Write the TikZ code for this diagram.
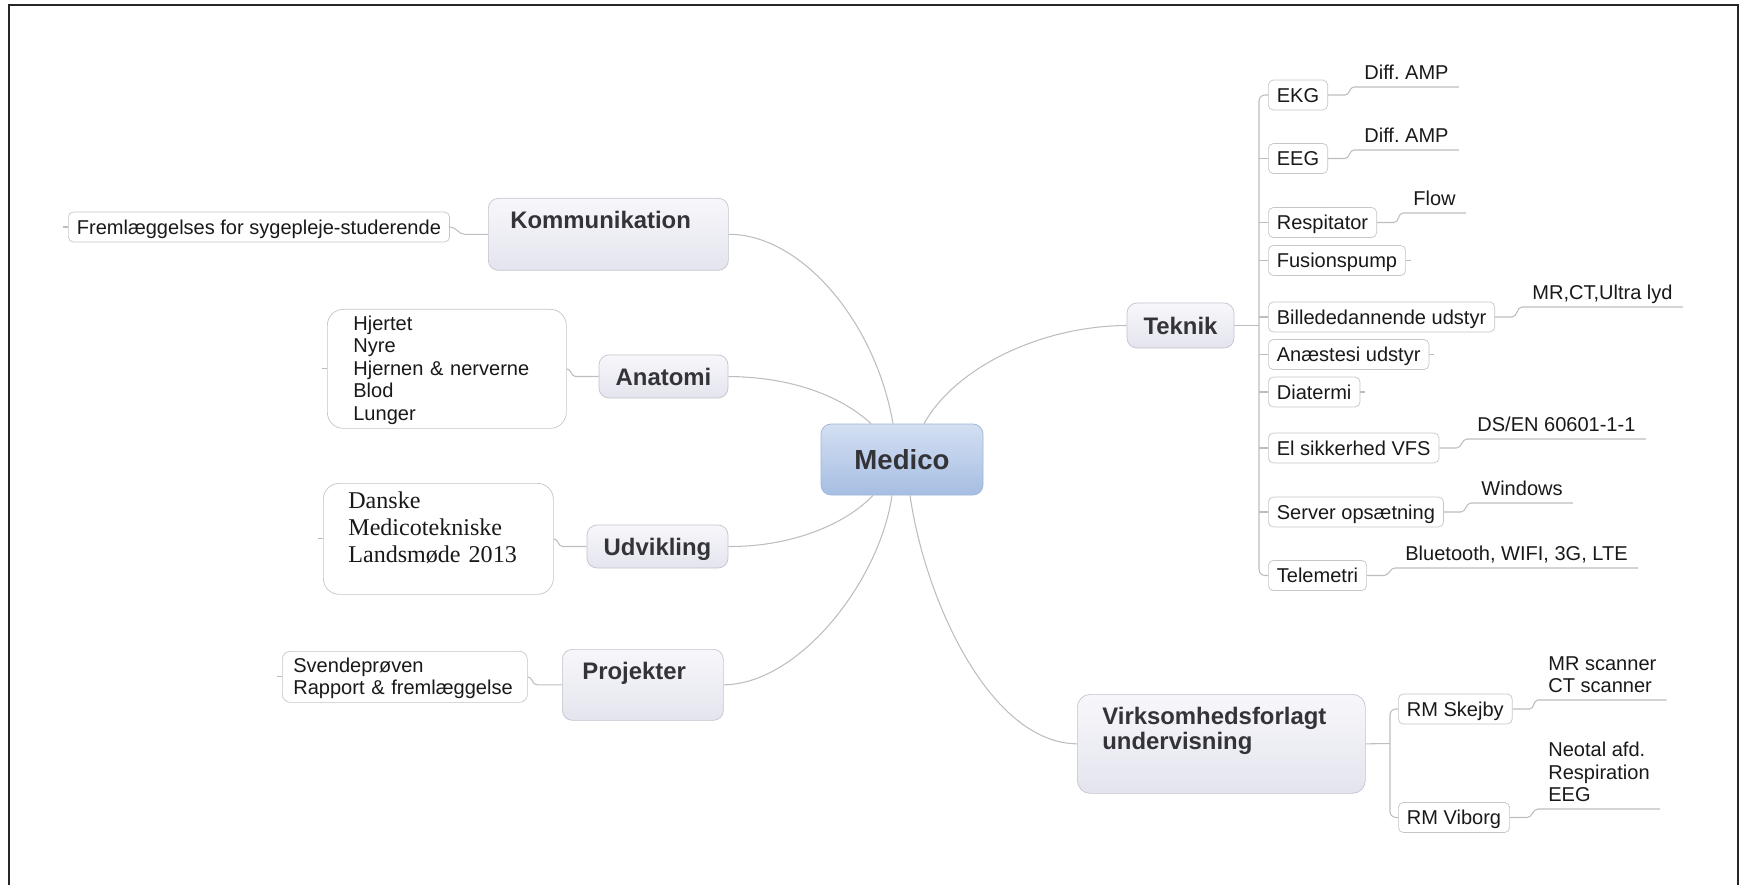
\documentclass[tikz,border=0pt]{standalone}
\usepackage{fontspec}
\setmainfont{Liberation Sans}
\newfontfamily\seriffont{Liberation Serif}

\definecolor{branchgray}{HTML}{BDBDBD}
\definecolor{boxline}{HTML}{C6C6C6}
\definecolor{topicline}{HTML}{C4C4CE}
\definecolor{topictop}{HTML}{F7F7FB}
\definecolor{topicbot}{HTML}{E4E4EE}
\definecolor{centertop}{HTML}{D3DFF2}
\definecolor{centerbot}{HTML}{A6BEE3}
\definecolor{centerline}{HTML}{A0B4D8}
\definecolor{darktext}{HTML}{333338}

\newcommand{\subfont}{\fontsize{11.4}{12.8}\selectfont}
\newcommand{\serifsub}{\seriffont\fontsize{13.7}{15.4}\selectfont}
\newcommand{\topicfont}{\fontsize{13.6}{14.4}\selectfont\bfseries}

\begin{document}
\frenchspacing
\begin{tikzpicture}[
  branch/.style={draw=branchgray, line width=0.6pt},
  centre/.style={draw=centerline, rounded corners=0.2cm, top color=centertop, bottom color=centerbot, text=darktext, font=\fontsize{15.7}{18}\selectfont\bfseries, text height=11.2pt, text depth=0pt, minimum width=3.24cm, minimum height=1.42cm},
  topic/.style={draw=topicline, rounded corners=0.2cm, top color=topictop, bottom color=topicbot, text=darktext, font=\topicfont, text height=9.7pt, text depth=0pt},
  topleft/.style={topic, anchor=north west, align=left, inner ysep=0pt, text height=0.6cm},
  subbox/.style={draw=boxline, fill=white, font=\subfont, text=black!90, align=left, anchor=north west, inner ysep=0pt},
  childbox/.style={draw=boxline, fill=white, rounded corners=0.1cm, font=\subfont, text=black!90, inner xsep=0.17cm, inner ysep=0pt, text height=8.2pt, text depth=0pt, minimum height=0.6cm, anchor=west},
  leaf/.style={font=\subfont, text=black!90, align=left, anchor=south west, inner xsep=0.2cm, inner ysep=0.14cm, text depth=0pt},
]
\useasboundingbox (0,0) rectangle (34.86,-17.70);
\draw[black!85, line width=1.1pt] (0.18,-17.9) -- (0.18,-0.10) -- (34.76,-0.10) -- (34.76,-17.9);

% centre and main topics
\node[centre] (med) at (18.04,-9.19) {Medico};
\node[topleft, inner xsep=0.44cm, text width=3.92cm, text depth=0.84cm] (kom) at (9.76,-3.96) {Kommunikation};
\node[topic, minimum width=2.58cm, minimum height=0.86cm] (ana) at (13.27,-7.53) {Anatomi};
\node[topic, minimum width=2.82cm, minimum height=0.86cm] (udv) at (13.15,-10.93) {Udvikling};
\node[topleft, inner xsep=0.4cm, text width=2.42cm, text depth=0.82cm] (pro) at (11.24,-12.98) {Projekter};
\node[topic, minimum width=2.14cm, minimum height=0.9cm] (tek) at (23.61,-6.51) {Teknik};
\node[topleft, rounded corners=0.26cm, inner xsep=0.5cm, text width=4.76cm, text depth=1.38cm] (vir) at (21.54,-13.88) {Virksomhedsforlagt\\undervisning};

% left side
\node[childbox] (fre) at (1.36,-4.54) {Fremlæggelses for sygepleje-studerende};
\node[subbox, rounded corners=0.32cm, inner xsep=0.52cm, text width=3.74cm, text height=0.42cm, text depth=1.96cm] (hje) at (6.54,-6.18) {Hjertet\\Nyre\\Hjernen \& nerverne\\Blod\\Lunger};
\node[subbox, rounded corners=0.32cm, inner xsep=0.5cm, text width=3.6cm, text height=0.5cm, text depth=1.72cm, font=\serifsub] (dan) at (6.46,-9.66) {Danske\\Medicotekniske\\Landsmøde 2013};
\node[subbox, rounded corners=0.16cm, inner xsep=0.22cm, text width=4.46cm, text height=0.42cm, text depth=0.6cm] (sve) at (5.64,-13.02) {Svendeprøven\\Rapport \& fremlæggelse};

% teknik
\node[childbox] (ekg) at (25.36,-1.90) {EKG};
\node[childbox] (eeg) at (25.36,-3.17) {EEG};
\node[childbox] (res) at (25.36,-4.45) {Respitator};
\node[childbox] (fus) at (25.36,-5.21) {Fusionspump};
\node[childbox] (bil) at (25.36,-6.34) {Billededannende udstyr};
\node[childbox] (anae) at (25.36,-7.09) {Anæstesi udstyr};
\node[childbox] (dia) at (25.36,-7.84) {Diatermi};
\node[childbox] (els) at (25.36,-8.96) {El sikkerhed VFS};
\node[childbox] (ser) at (25.36,-10.24) {Server opsætning};
\node[childbox] (tel) at (25.36,-11.51) {Telemetri};

\node[leaf] (ekgl) at (27.08,-1.74) {Diff. AMP};
\node[leaf] (eegl) at (27.08,-3.00) {Diff. AMP};
\node[leaf] (resl) at (28.06,-4.26) {Flow};
\node[leaf] (bill) at (30.44,-6.14) {MR,CT,Ultra lyd};
\node[leaf] (elsl) at (29.34,-8.78) {DS/EN 60601-1-1};
\node[leaf] (serl) at (29.42,-10.06) {Windows};
\node[leaf] (tell) at (27.90,-11.36) {Bluetooth, WIFI, 3G, LTE};

% virksomhedsforlagt
\node[childbox] (skj) at (27.96,-14.18) {RM Skejby};
\node[childbox] (vib) at (27.96,-16.35) {RM Viborg};
\node[leaf] (skjl) at (30.76,-14.00) {MR scanner\\CT scanner};
\node[leaf] (vibl) at (30.76,-16.18) {Neotal afd.\\Respiration\\EEG};

% branches from the centre
\draw[branch] (kom.east) .. controls (16.0,-4.68) and (17.5,-6.4) .. ([xshift=-0.18cm]med.north);
\draw[branch] (ana.east) .. controls (15.8,-7.54) and (16.8,-7.9) .. ([xshift=-0.62cm]med.north);
\draw[branch] (tek.west) .. controls (20.8,-6.52) and (19.1,-7.36) .. ([xshift=0.44cm]med.north);
\draw[branch] (udv.east) .. controls (15.8,-10.94) and (16.9,-10.5) .. ([xshift=-0.58cm]med.south);
\draw[branch] (pro.east) .. controls (16.0,-13.68) and (17.6,-11.6) .. ([xshift=-0.2cm]med.south);
\draw[branch] ([xshift=0.16cm]med.south) .. controls (18.5,-12.0) and (19.8,-14.86) .. (vir.west);

% left side links
\draw[branch] (kom.west) -- ++(-0.46,0) to[out=180,in=0] (fre.east);
\draw[branch] (ana.west) -- ++(-0.46,0) to[out=180,in=0] (hje.east);
\draw[branch] (udv.west) -- ++(-0.48,0) to[out=180,in=0] (dan.east);
\draw[branch] (pro.west) -- ++(-0.5,0) to[out=180,in=0] (sve.east);
\draw[branch] (fre.west) -- ++(-0.1,0);
\draw[branch] (hje.west) -- ++(-0.1,0);
\draw[branch] (dan.west) -- ++(-0.1,0);
\draw[branch] (sve.west) -- ++(-0.1,0);

% teknik links
\coordinate (tspine) at (25.18,-6.51);
\draw[branch] (tek.east) -- (tspine);
\draw[branch, rounded corners=0.12cm] (ekg.west) -| (tspine) |- (tel.west);
\draw[branch] (eeg.west) -- (eeg.west -| tspine);
\draw[branch] (res.west) -- (res.west -| tspine);
\draw[branch] (fus.west) -- (fus.west -| tspine);
\draw[branch] (bil.west) -- (bil.west -| tspine);
\draw[branch] (anae.west) -- (anae.west -| tspine);
\draw[branch] (dia.west) -- (dia.west -| tspine);
\draw[branch] (els.west) -- (els.west -| tspine);
\draw[branch] (ser.west) -- (ser.west -| tspine);
\draw[branch] (fus.east) -- ++(0.1,0);
\draw[branch] (anae.east) -- ++(0.1,0);
\draw[branch] (dia.east) -- ++(0.1,0);

\draw[branch] (ekg.east) -- ++(0.34,0) to[out=0,in=180] (ekgl.south west) -- (ekgl.south east);
\draw[branch] (eeg.east) -- ++(0.34,0) to[out=0,in=180] (eegl.south west) -- (eegl.south east);
\draw[branch] (res.east) -- ++(0.34,0) to[out=0,in=180] (resl.south west) -- (resl.south east);
\draw[branch] (bil.east) -- ++(0.34,0) to[out=0,in=180] (bill.south west) -- (bill.south east);
\draw[branch] (els.east) -- ++(0.34,0) to[out=0,in=180] (elsl.south west) -- (elsl.south east);
\draw[branch] (ser.east) -- ++(0.34,0) to[out=0,in=180] (serl.south west) -- (serl.south east);
\draw[branch] (tel.east) -- ++(0.34,0) to[out=0,in=180] (tell.south west) -- (tell.south east);

% virksomhedsforlagt links
\coordinate (vspine) at (27.80,-14.87);
\draw[branch] (vir.east) -- (vspine);
\draw[branch, rounded corners=0.12cm] (skj.west) -| (vspine) |- (vib.west);
\draw[branch] (skj.east) -- ++(0.34,0) to[out=0,in=180] (skjl.south west) -- (skjl.south east);
\draw[branch] (vib.east) -- ++(0.34,0) to[out=0,in=180] (vibl.south west) -- (vibl.south east);
\end{tikzpicture}
\end{document}
